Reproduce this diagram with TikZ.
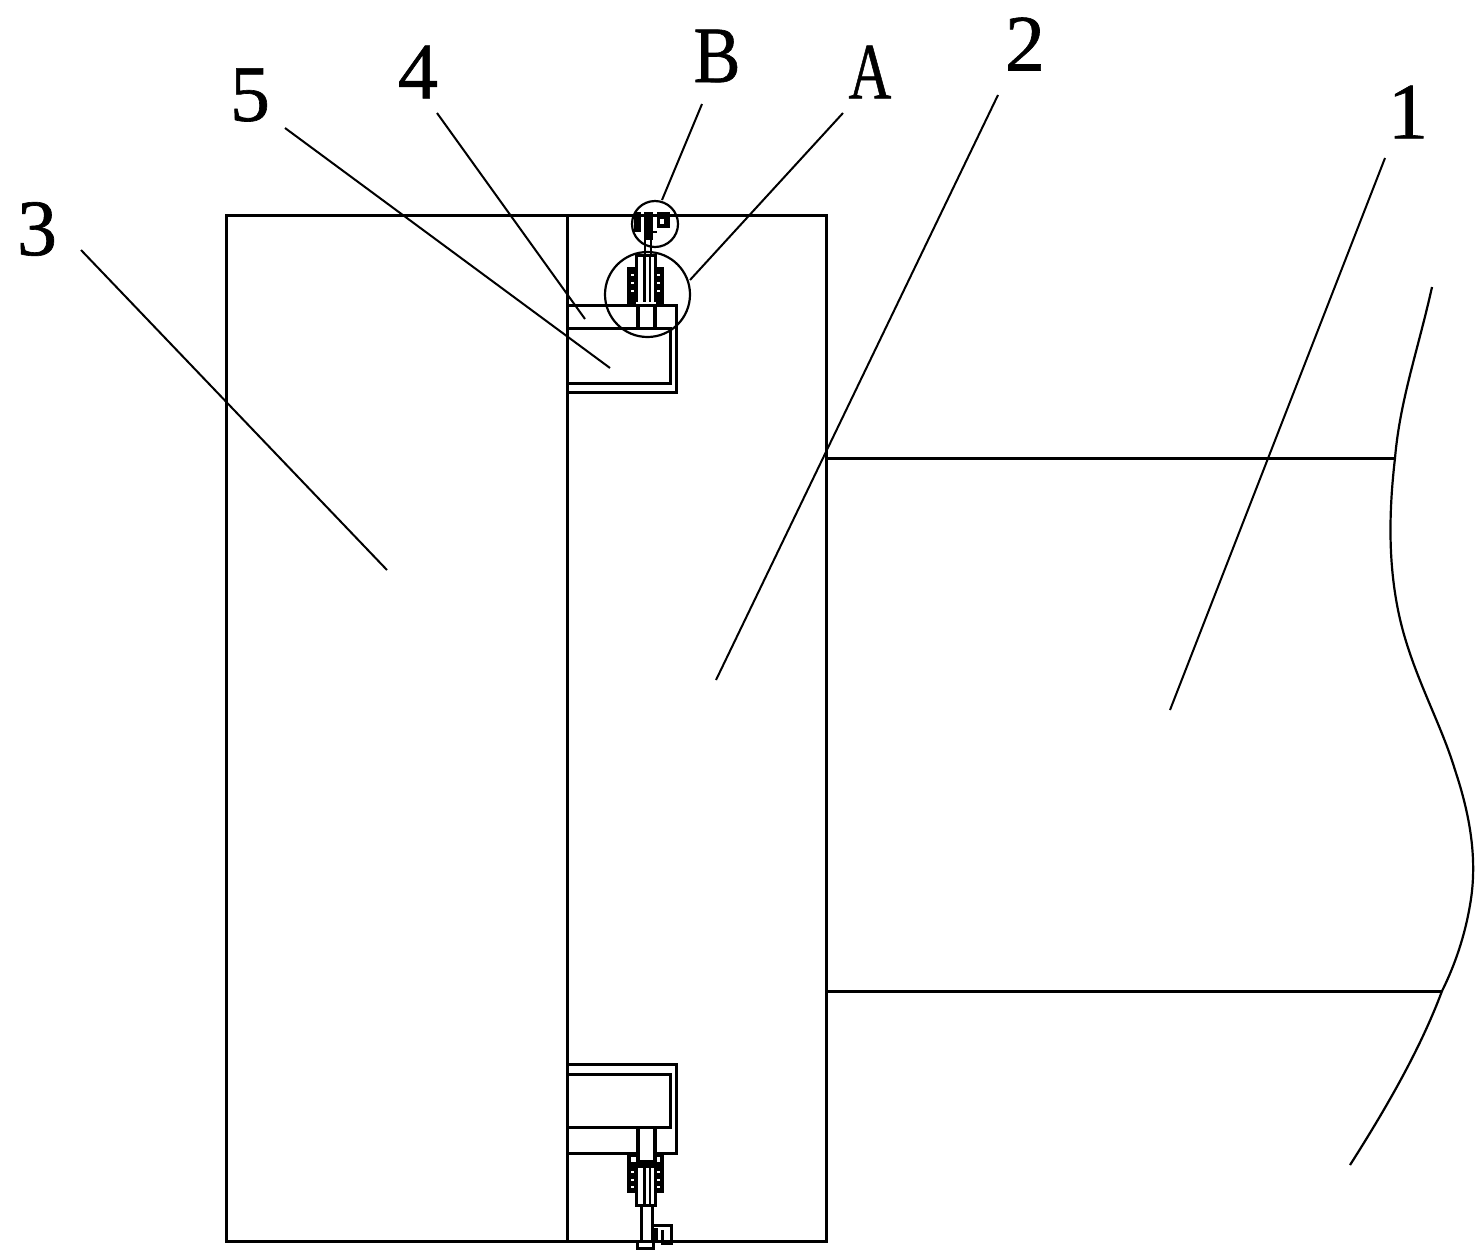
\documentclass[tikz,border=0pt]{standalone}
\usepackage{fontspec}
\usepackage{graphicx}
\setmainfont{Liberation Serif}
\tikzset{
  part/.style={line width=3pt,black},
  thin part/.style={line width=2.2pt,black},
  leader/.style={line width=2pt,black},
  callout/.style={line width=2.2pt,black},
  num/.style={font=\fontsize{80}{80}\selectfont\addfontfeature{FakeBold=0.8},inner sep=0pt,anchor=center},
}
\begin{document}
\begin{tikzpicture}[x=1pt,y=-1pt]
\useasboundingbox (0,0) rectangle (1483,1259);
% main bodies
\draw[part] (226,215) rectangle (826,1241);
\draw[part] (567,215) -- (567,1241);
\draw[part] (826,458) -- (1395,458);
\draw[part] (826,991) -- (1442,991);
\draw[thin part] (1432,287) .. controls (1418,350) and (1400,400) .. (1395,458)
  .. controls (1389,510) and (1388,560) .. (1398,610)
  .. controls (1410,670) and (1440,720) .. (1455,770)
  .. controls (1470,815) and (1478,860) .. (1470,905)
  .. controls (1465,935) and (1455,965) .. (1442,991)
  .. controls (1420,1050) and (1385,1110) .. (1350,1165);
% top bracket
\draw[part] (567,305) -- (676,305) -- (676,392) -- (567,392);
\draw[part] (567,328) -- (670,328) -- (670,383) -- (567,383);
% top bolt
\fill (627,267) rectangle (664,305);
\fill[white] (638,256) rectangle (654,303);
\draw[part] (636,255) rectangle (655,305);
\draw[line width=1.2pt,white] (631,275) -- (634,275) (631,283) -- (634,283) (631,291) -- (634,291) (657,275) -- (660,275) (657,283) -- (660,283) (657,291) -- (660,291);
\draw[thin part] (644.5,255) -- (644.5,303) (650,255) -- (650,303);
\draw[line width=1.2pt,white] (636,303) -- (656,303);
\draw[line width=3.5pt] (638,306) -- (638,329) (655,306) -- (655,329);
\draw[thin part] (645,215) -- (645,255) (651,215) -- (651,255);
\fill (634,212) rectangle (641,232);
\fill (644,212) rectangle (653,240);
\fill (657,212) rectangle (670,228);
\fill[white] (660,219) rectangle (664,224);
\draw[thin part] (652,216) -- (670,216) (652,232) -- (657,232);
% bottom bracket
\draw[part] (567,1064) -- (676,1064) -- (676,1153) -- (567,1153);
\draw[part] (567,1074) -- (670,1074) -- (670,1127) -- (567,1127);
% bottom bolt
\fill (627,1153) rectangle (664,1193);
\fill[white] (638,1166) rectangle (654,1203);
\fill[white] (631,1157) rectangle (660,1162);
\draw[part] (636,1166) rectangle (655,1205);
\draw[line width=1.2pt,white] (631,1172) -- (634,1172) (631,1180) -- (634,1180) (631,1187) -- (634,1187) (657,1172) -- (660,1172) (657,1180) -- (660,1180) (657,1187) -- (660,1187);
\draw[thin part] (644.5,1166) -- (644.5,1205) (650,1166) -- (650,1205);
\fill[white] (639,1129) rectangle (653,1160);
\draw[line width=3.5pt] (638,1127) -- (638,1162) -- (655,1162) -- (655,1127);
\draw[part] (641,1205) -- (641,1241) (652,1205) -- (652,1241);
\draw[part] (652,1225) -- (671,1225) -- (671,1243) -- (662,1243) -- (662,1230);
\fill (654,1228) rectangle (658,1243);
\draw[part] (637,1241) -- (637,1248) -- (653,1248) -- (653,1241);
% callout circles
\node[draw,callout,circle,minimum size=85pt,inner sep=0pt] (circA) at (647.5,294.5) {};
\node[draw,callout,circle,minimum size=46pt,inner sep=0pt] (circB) at (655,224) {};
% labels
\node[num] (n3) at (37,229) {3};
\node[num] (n5) at (250,95) {5};
\node[num] (n4) at (418,72) {4};
\node[num] (nB) at (717,56) {\scalebox{0.88}[1]{B}};
\node[num] (nA) at (870,72) {\scalebox{0.74}[1]{A}};
\node[num] (n2) at (1025,44) {2};
\node[num] (n1) at (1408,112) {1};
% leader ends
\coordinate (s3) at (81,250);  \coordinate (e3) at (387,570);
\coordinate (s5) at (285,128); \coordinate (e5) at (610,368);
\coordinate (s4) at (437,113); \coordinate (e4) at (585,319);
\coordinate (sB) at (702,104); \coordinate (eB) at (662,200);
\coordinate (sA) at (843,113); \coordinate (eA) at (690,280);
\coordinate (s2) at (998,95);  \coordinate (e2) at (716,680);
\coordinate (s1) at (1385,158);\coordinate (e1) at (1170,710);
\draw[leader] (s3) -- (e3);
\draw[leader] (s5) -- (e5);
\draw[leader] (s4) -- (e4);
\draw[leader] (sB) -- (eB);
\draw[leader] (sA) -- (eA);
\draw[leader] (s2) -- (e2);
\draw[leader] (s1) -- (e1);
\end{tikzpicture}
\end{document}
